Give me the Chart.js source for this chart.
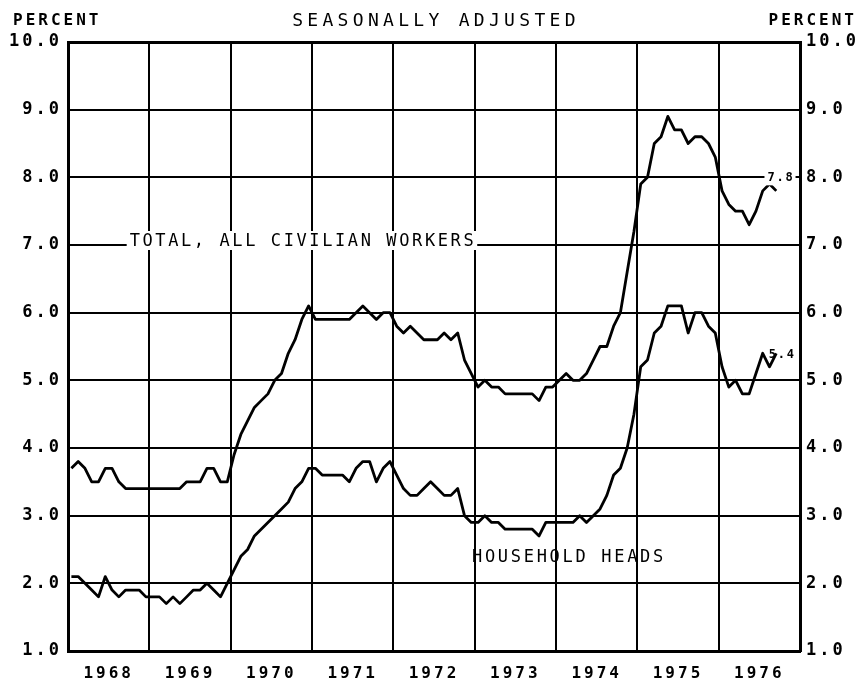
<!DOCTYPE html>
<html>
<head>
<meta charset="utf-8">
<script src="https://cdn.jsdelivr.net/npm/chart.js@4.4.1/dist/chart.umd.min.js"></script>
<style>
  html, body { margin: 0; padding: 0; background: #fff; }
  canvas { display: block; }
</style>
</head>
<body>
<canvas id="chart" width="859" height="685"></canvas>
<script>
// unemployment rates, monthly, seasonally adjusted, Jan 1968 - Sep 1976
const years = ['1968', '1969', '1970', '1971', '1972', '1973', '1974', '1975', '1976']
const yTicks = [1, 2, 3, 4, 5, 6, 7, 8, 9, 10]

const totalWorkers = [
  3.7, 3.8, 3.7, 3.5, 3.5, 3.7, 3.7, 3.5, 3.4, 3.4, 3.4, 3.4, // 1968
  3.4, 3.4, 3.4, 3.4, 3.4, 3.5, 3.5, 3.5, 3.7, 3.7, 3.5, 3.5, // 1969
  3.9, 4.2, 4.4, 4.6, 4.7, 4.8, 5.0, 5.1, 5.4, 5.6, 5.9, 6.1, // 1970
  5.9, 5.9, 5.9, 5.9, 5.9, 5.9, 6.0, 6.1, 6.0, 5.9, 6.0, 6.0, // 1971
  5.8, 5.7, 5.8, 5.7, 5.6, 5.6, 5.6, 5.7, 5.6, 5.7, 5.3, 5.1, // 1972
  4.9, 5.0, 4.9, 4.9, 4.8, 4.8, 4.8, 4.8, 4.8, 4.7, 4.9, 4.9, // 1973
  5.0, 5.1, 5.0, 5.0, 5.1, 5.3, 5.5, 5.5, 5.8, 6.0, 6.6, 7.2, // 1974
  7.9, 8.0, 8.5, 8.6, 8.9, 8.7, 8.7, 8.5, 8.6, 8.6, 8.5, 8.3, // 1975
  7.8, 7.6, 7.5, 7.5, 7.3, 7.5, 7.8, 7.9, 7.8                 // 1976
]

const householdHeads = [
  2.1, 2.1, 2.0, 1.9, 1.8, 2.1, 1.9, 1.8, 1.9, 1.9, 1.9, 1.8, // 1968
  1.8, 1.8, 1.7, 1.8, 1.7, 1.8, 1.9, 1.9, 2.0, 1.9, 1.8, 2.0, // 1969
  2.2, 2.4, 2.5, 2.7, 2.8, 2.9, 3.0, 3.1, 3.2, 3.4, 3.5, 3.7, // 1970
  3.7, 3.6, 3.6, 3.6, 3.6, 3.5, 3.7, 3.8, 3.8, 3.5, 3.7, 3.8, // 1971
  3.6, 3.4, 3.3, 3.3, 3.4, 3.5, 3.4, 3.3, 3.3, 3.4, 3.0, 2.9, // 1972
  2.9, 3.0, 2.9, 2.9, 2.8, 2.8, 2.8, 2.8, 2.8, 2.7, 2.9, 2.9, // 1973
  2.9, 2.9, 2.9, 3.0, 2.9, 3.0, 3.1, 3.3, 3.6, 3.7, 4.0, 4.5, // 1974
  5.2, 5.3, 5.7, 5.8, 6.1, 6.1, 6.1, 5.7, 6.0, 6.0, 5.8, 5.7, // 1975
  5.2, 4.9, 5.0, 4.8, 4.8, 5.1, 5.4, 5.2, 5.4                 // 1976
]

const mono = '"DejaVu Sans Mono", "Liberation Mono", monospace'

// each month is plotted in the middle of its slot
function toPoints(arr) {
  return arr.map((v, i) => ({ x: i + 0.5, y: v }))
}

const plotterText = {
  id: 'plotterText',
  beforeDraw(chart) {
    // wide lettering like the old plotter labels
    chart.ctx.letterSpacing = '3px'
  },
  afterDraw(chart) {
    const ctx = chart.ctx
    const xs = chart.scales.x
    const ys = chart.scales.y
    const area = chart.chartArea

    function put(text, px, py, font, spacing, align, bg) {
      ctx.save()
      ctx.font = font
      ctx.letterSpacing = spacing + 'px'
      ctx.textAlign = align
      ctx.textBaseline = 'alphabetic'
      if (bg) {
        const w = ctx.measureText(text).width
        const left = align === 'left' ? px : (align === 'right' ? px - w : px - w / 2)
        ctx.fillStyle = '#fff'
        ctx.fillRect(left - 3, py - 15, w + 4, 19)
      }
      ctx.fillStyle = '#000'
      ctx.fillText(text, px, py)
      ctx.restore()
    }

    put('PERCENT', 13, 25, 'bold 16px ' + mono, 3, 'left')
    put('PERCENT', 857, 25, 'bold 16px ' + mono, 3, 'right')
    put('SEASONALLY ADJUSTED', (area.left + area.right) / 2 + 2, 26, '18px ' + mono, 4.3, 'center')

    put('TOTAL, ALL CIVILIAN WORKERS', xs.getPixelForValue(9.1), ys.getPixelForValue(7.0) + 1,
      '17px ' + mono, 2.6, 'left', true)
    put('HOUSEHOLD HEADS', xs.getPixelForValue(59.6), ys.getPixelForValue(2.31),
      '17px ' + mono, 2.7, 'left')
    put('7.8', xs.getPixelForValue(103.2), ys.getPixelForValue(8.0) + 4,
      'bold 12px ' + mono, 1.8, 'left', true)
    put('5.4', xs.getPixelForValue(103.4), ys.getPixelForValue(5.33),
      'bold 12px ' + mono, 1.8, 'left')
  }
}

const lineStyle = {
  borderColor: '#000',
  borderWidth: 2.8,
  pointRadius: 0,
  tension: 0,
  borderJoinStyle: 'round',
  fill: false
}

new Chart(document.getElementById('chart'), {
  type: 'line',
  data: {
    datasets: [
      Object.assign({ label: 'TOTAL, ALL CIVILIAN WORKERS', data: toPoints(totalWorkers) }, lineStyle),
      Object.assign({ label: 'HOUSEHOLD HEADS', data: toPoints(householdHeads) }, lineStyle)
    ]
  },
  options: {
    responsive: false,
    animation: false,
    devicePixelRatio: 1,
    layout: { padding: { top: 42, left: 0, right: 0, bottom: 0 } },
    plugins: {
      legend: { display: false },
      tooltip: { enabled: false }
    },
    scales: {
      x: {
        type: 'linear',
        min: 0,
        max: years.length * 12,
        afterFit(s) { s.height = 34 },
        border: { color: '#000', width: 3 },
        grid: {
          drawTicks: false,
          color: c => (c.tick && c.tick.value % 12 === 0) ? '#000' : 'rgba(0,0,0,0)',
          lineWidth: 2
        },
        ticks: {
          stepSize: 6,
          autoSkip: false,
          maxRotation: 0,
          padding: 13,
          color: '#000',
          font: { family: mono, size: 16, weight: 'bold' },
          callback: v => (v % 12 === 6) ? years[(v - 6) / 12] : ''
        }
      },
      y: {
        position: 'left',
        min: yTicks[0],
        max: yTicks[yTicks.length - 1],
        afterFit(s) { s.width = 68 },
        afterBuildTicks(s) { s.ticks = yTicks.map(v => ({ value: v })) },
        border: { color: '#000', width: 3 },
        grid: {
          drawTicks: false,
          color: '#000',
          lineWidth: c => (c.tick && c.tick.value === 10) ? 3 : 2
        },
        ticks: {
          padding: 6,
          color: '#000',
          font: { family: mono, size: 17, weight: 'bold' },
          callback: v => v.toFixed(1)
        }
      },
      y2: {
        position: 'right',
        min: yTicks[0],
        max: yTicks[yTicks.length - 1],
        afterFit(s) { s.width = 59 },
        afterBuildTicks(s) { s.ticks = yTicks.map(v => ({ value: v })) },
        border: { color: '#000', width: 3 },
        grid: { display: false, drawTicks: false },
        ticks: {
          padding: 6,
          color: '#000',
          font: { family: mono, size: 17, weight: 'bold' },
          callback: v => v.toFixed(1)
        }
      }
    }
  },
  plugins: [plotterText]
})
</script>
</body>
</html>
